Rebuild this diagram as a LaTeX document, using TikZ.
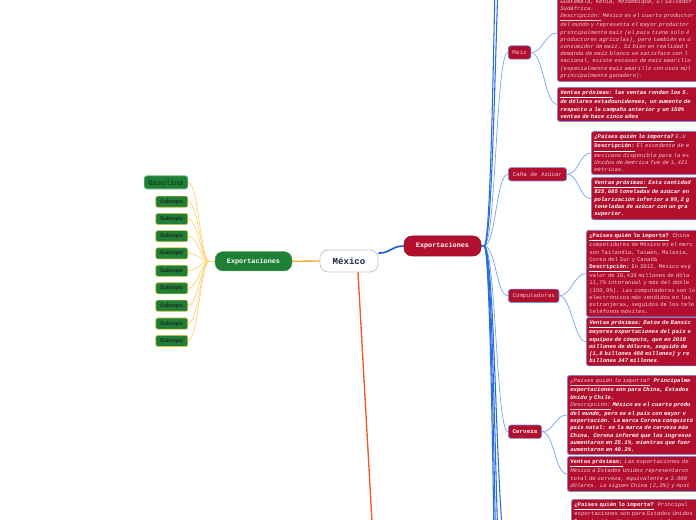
\documentclass[tikz,border=0pt]{standalone}
\usepackage{fontspec}
\newfontfamily\monof{Liberation Mono}
\newfontfamily\sansf{Liberation Sans}
\usetikzlibrary{calc}
\definecolor{boxred}{RGB}{178,14,46}
\definecolor{boxedge}{RGB}{115,145,225}
\definecolor{pinktext}{RGB}{240,200,212}
\definecolor{mmgreen}{RGB}{30,128,52}
\definecolor{subedge}{RGB}{225,195,80}
\definecolor{gasedge}{RGB}{150,205,155}
\definecolor{gastext}{RGB}{15,45,22}
\definecolor{navy}{RGB}{25,35,70}
\definecolor{yline}{RGB}{255,212,120}
\definecolor{oline}{RGB}{245,170,35}
\definecolor{rline}{RGB}{240,88,40}
\definecolor{bmain}{RGB}{25,90,215}
\definecolor{blight}{RGB}{115,160,240}
\definecolor{bdeep}{RGB}{40,110,225}
\newcommand{\myul}[1]{\underline{#1}}
\begin{document}
\begin{tikzpicture}[x=0.75pt,y=-0.75pt,
  infobox/.style={draw=boxedge, line width=0.5pt, fill=boxred, rounded corners=2pt,
    text=pinktext, font=\monof\fontsize{4.2}{5.4}\selectfont, text width=140pt,
    align=left, inner xsep=2.25pt, inner ysep=2.4pt},
  childbox/.style={draw=boxedge, line width=0.5pt, fill=boxred, rounded corners=2pt,
    text=pinktext, font=\monof\fontsize{4.4}{5}\selectfont, minimum height=10pt,
    inner xsep=2pt, inner ysep=0pt},
  subbox/.style={draw=subedge, line width=0.5pt, fill=mmgreen, rounded corners=1.5pt,
    text=black!85, font=\sansf\bfseries\fontsize{4.1}{5}\selectfont,
    minimum width=24pt, minimum height=8.4pt, inner sep=0pt},
  yl/.style={draw=yline, line width=0.55pt},
  bl/.style={draw=blight, line width=0.5pt},
  bd/.style={draw=bdeep, line width=0.8pt}]
\fill[white] (0,0) rectangle (696,520);
\useasboundingbox (0,0) rectangle (696,520);
\clip (0,0) rectangle (696,520);

% central node
\node[draw=black!22, line width=0.6pt, fill=white, rounded corners=6pt,
  minimum width=43.5pt, minimum height=16.5pt, inner sep=0pt, text=navy,
  font=\monof\bfseries\fontsize{6.8}{8}\selectfont] (mexico) at (349,261) {México};

% main branches
\node[draw=boxred!85!black, line width=0.4pt, fill=boxred, rounded corners=6pt,
  minimum width=57.75pt, minimum height=15pt, inner sep=0pt, text=white,
  font=\monof\bfseries\fontsize{5.1}{6}\selectfont] (expR) at (442.5,246) {Exportaciones};
\node[draw=mmgreen!75!white, line width=0.4pt, fill=mmgreen, rounded corners=6pt,
  minimum width=57.75pt, minimum height=14.5pt, inner sep=0pt, text=white,
  font=\monof\bfseries\fontsize{5.1}{6}\selectfont] (expL) at (253.5,261.3) {Exportaciones};

% left children
\node[draw=gasedge, line width=0.5pt, fill=mmgreen, rounded corners=2pt,
  minimum width=32.8pt, minimum height=10pt, inner sep=0pt, text=gastext,
  font=\monof\fontsize{5.5}{6}\selectfont] (gas) at (166,182.4) {Gasolina};
\node[subbox] (s1) at (171.8,201.7) {Subtopic};
\node[subbox] (s2) at (171.8,219) {Subtopic};
\node[subbox] (s3) at (171.8,236.2) {Subtopic};
\node[subbox] (s4) at (171.8,253.4) {Subtopic};
\node[subbox] (s5) at (171.8,270.8) {Subtopic};
\node[subbox] (s6) at (171.8,288.3) {Subtopic};
\node[subbox] (s7) at (171.8,305.7) {Subtopic};
\node[subbox] (s8) at (171.8,323.6) {Subtopic};
\node[subbox] (s9) at (171.8,340.9) {Subtopic};

% right children
\node[childbox, minimum width=17pt] (mz) at (519.5,52.5) {Maíz};
\node[childbox, minimum width=43.7pt] (cana) at (537.5,174.3) {Caña de Azúcar};
\node[childbox, minimum width=38pt] (comp) at (533.7,295.8) {Computadoras};
\node[childbox, minimum width=25pt, text=white, font=\monof\bfseries\fontsize{4.4}{5}\selectfont] (cerv) at (525,431.7) {Cerveza};

% info boxes
\node[infobox, anchor=south west] (mb1) at (557,82) {\itshape
Guatemala, Kenia, Mozambique, El Salvador\\
Sudáfrica.\\
\myul{Descripción:} México es el cuarto productor\\
del mundo y representa el mayor productor\\
principalmente maíz (el país tiene solo 4\\
productores agrícolas), pero también es u\\
consumidor de maíz. Si bien en realidad t\\
demanda de maíz blanco se satisface con l\\
nacional, existe escasez de maíz amarillo\\
(especialmente maíz amarillo con usos múl\\
principalmente ganadero).};

\node[infobox, anchor=north west] (mb2) at (557,87) {\bfseries\itshape\color{white}
\myul{Ventas próximas:} las ventas rondan los 5.\\
de dólares estadounidenses, un aumento de\\
respecto a la campaña anterior y un 150\%\\
ventas de hace cinco años};

\node[infobox, anchor=north west] (cb1) at (591,131) {%
{\bfseries\itshape\color{white}\myul{¿Países quién lo importa?}} {\itshape E.U}\\
{\bfseries\color{white}\myul{Descripción:}} {\itshape El excedente de e}\\
{\itshape mexicano disponible para la ex}\\
{\itshape Unidos de América fue de 1,421}\\
{\itshape métricas.}};

\node[infobox, anchor=north west] (cb2) at (591,177) {\bfseries\itshape\color{white}
\myul{Ventas próximas:} Esta cantidad\\
825.605 toneladas de azúcar en\\
polarización inferior a 99,2 g\\
toneladas de azúcar con un gra\\
superior.};

\node[infobox, anchor=north west] (pb1) at (586,230) {%
{\bfseries\color{white}\myul{¿Países quién lo importa?}}\ \ China\\
competidores de México en el merc\\
son Tailandia, Taiwán, Malasia,\\
Corea del Sur y Canadá\\
{\bfseries\color{white}\myul{Descripción:}} En 2012, México exp\\
valor de 18,439 millones de dóla\\
11,7\% interanual y más del doble\\
(150,9\%). Las computadoras son lo\\
electrónicos más vendidos en las\\
extranjeras, seguidos de los tele\\
teléfonos móviles.};

\node[infobox, anchor=north west] (pb2) at (586,317) {\bfseries\itshape\color{white}
\myul{Ventas próximas:} Datos de Banxic\\
mayores exportaciones del país e\\
equipos de cómputo, que en 2018\\
millones de dólares, seguido de\\
(1,8 billones 480 millones) y re\\
billones 347 millones.};

\node[infobox, anchor=north west] (vb1) at (567,375) {%
{\itshape\myul{¿Países quién lo importa?}}\ \ {\bfseries\itshape\color{white}Principalme}\\
{\bfseries\itshape\color{white}exportaciones son para China, Estados}\\
{\bfseries\itshape\color{white}Unido y Chile.}\\
{\itshape\myul{Descripción:}} {\bfseries\itshape\color{white}México es el cuarto produ}\\
{\bfseries\itshape\color{white}del mundo, pero es el país con mayor v}\\
{\bfseries\itshape\color{white}exportación. La marca Corona conquistó}\\
{\bfseries\itshape\color{white}país natal: es la marca de cerveza más}\\
{\bfseries\itshape\color{white}China. Corona informó que los ingresos}\\
{\bfseries\itshape\color{white}aumentaron en 25.1\%, mientras que fuer}\\
{\bfseries\itshape\color{white}aumentaron en 40.3\%.}};

\node[infobox, anchor=north west] (vb2) at (567,456) {%
{\bfseries\color{white}\myul{Ventas próximas:}} {\itshape Las exportaciones de}\\
{\itshape México a Estados Unidos representaron}\\
{\itshape total de cerveza, equivalente a 3.900}\\
{\itshape dólares. Le siguen China (2,3\%) y Aust}};

\node[infobox, anchor=north west] (nb1) at (571,499) {%
{\bfseries\color{white}\myul{¿Países quién lo importa?}}\ \ Principal\\
exportaciones son para Estados Unidos\\
{\bfseries\color{white}\myul{Descripción:}} México es uno de los};

% connectors: center
\draw[oline, line width=1pt] (mexico.west) -- (expL.east);
\draw[bmain, line width=1.2pt] (mexico.15) .. controls +(12,0) and +(-12,0) .. (expR.west);
\coordinate (offS) at (382,700);
\draw[rline, line width=1pt] ($(mexico.south)+(9,0)$) -- (offS);

% connectors: left
\coordinate (jL) at (209,261.3);
\draw[yl] (expL.west) -- (jL);
\foreach \n in {gas,s1,s2,s3,s4,s5,s6,s7,s8,s9}
  \draw[yl] (jL) .. controls +(-8,0) and +(10,0) .. (\n.east);

% connectors: right
\coordinate (jR) at (484,246);
\draw[bd] (expR.east) -- (jR);
\foreach \n in {mz,cana,comp,cerv}
  \draw[bl] (jR) .. controls +(12,0) and +(-12,0) .. (\n.west);
\coordinate (up1) at (508,-150);
\coordinate (up2) at (508,-380);
\coordinate (dn1) at (508,560);
\coordinate (dn2) at (508,700);
\coordinate (dn3) at (508,880);
\coordinate (dn4) at (508,1100);
\foreach \n in {up1,up2,dn1,dn2,dn3,dn4}
  \draw[bd] (jR) .. controls +(12,0) and +(-12,0) .. (\n);

% connectors: to info boxes
\draw[bl] (mz.east) .. controls +(12,0) and +(-12,0) .. ($(mb1.south west)+(0,-49)$);
\draw[bl] (mz.east) .. controls +(12,0) and +(-12,0) .. (mb2.west);
\draw[bl] (cana.east) .. controls +(12,0) and +(-12,0) .. (cb1.west);
\draw[bl] (cana.east) .. controls +(12,0) and +(-12,0) .. (cb2.west);
\draw[bl] (comp.east) .. controls +(12,0) and +(-12,0) .. (pb1.west);
\draw[bl] (comp.east) .. controls +(12,0) and +(-12,0) .. (pb2.west);
\draw[bl] (cerv.east) .. controls +(12,0) and +(-12,0) .. (vb1.west);
\draw[bl] (cerv.east) .. controls +(12,0) and +(-12,0) .. (vb2.west);
\end{tikzpicture}
\end{document}
